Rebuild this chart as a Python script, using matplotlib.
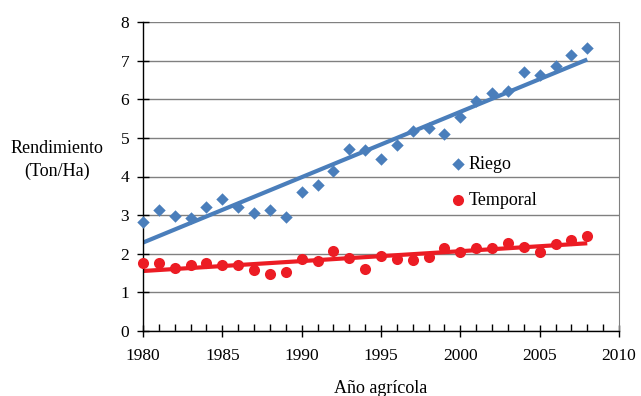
import matplotlib.pyplot as plt
import numpy as np
from matplotlib.ticker import MultipleLocator

plt.rcParams['font.family'] = ['Liberation Serif', 'DejaVu Serif']

# Rendimiento por año agrícola (Ton/Ha)
anios = list(range(1980, 2009))
riego = [2.81, 3.14, 2.98, 2.92, 3.21, 3.42, 3.22, 3.05, 3.14, 2.96,
         3.60, 3.78, 4.15, 4.71, 4.69, 4.45, 4.81, 5.18, 5.26, 5.11,
         5.53, 5.95, 6.16, 6.22, 6.70, 6.64, 6.85, 7.15, 7.33]
temporal = [1.75, 1.75, 1.63, 1.72, 1.76, 1.70, 1.70, 1.59, 1.48, 1.54,
            1.87, 1.82, 2.06, 1.88, 1.60, 1.93, 1.86, 1.85, 1.92, 2.14,
            2.05, 2.16, 2.14, 2.28, 2.17, 2.04, 2.25, 2.36, 2.46]

azul = '#4A7EBB'
rojo = '#EC1C24'

fig = plt.figure(figsize=(6.41, 3.96), dpi=100)
ax = fig.add_axes([143 / 641, 1 - 331 / 396, 476 / 641, 309 / 396])

x = np.array(anios)
# rectas de tendencia lineal
for serie, color in ((riego, azul), (temporal, rojo)):
    m, b = np.polyfit(x, serie, 1)
    ax.plot(x, m * x + b, color=color, lw=3, zorder=2, solid_capstyle='butt')

ax.scatter(x, riego, marker='D', s=40, color=azul, label='Riego', zorder=3,
           linewidths=0, clip_on=False)
ax.scatter(x, temporal, marker='o', s=64, color=rojo, label='Temporal', zorder=3,
           linewidths=0, clip_on=False)

ax.set_xlim(1980, 2010)
ax.set_ylim(0, 8)
ax.xaxis.set_major_locator(MultipleLocator(5))
ax.xaxis.set_minor_locator(MultipleLocator(1))
ax.yaxis.set_major_locator(MultipleLocator(1))
ax.grid(axis='y', color='#808080', lw=1)
ax.set_axisbelow(True)

ax.spines['top'].set_visible(False)
ax.spines['right'].set_color('#808080')
ax.spines['left'].set_linewidth(1)
ax.spines['bottom'].set_linewidth(1)
ax.tick_params(axis='x', which='major', direction='inout', length=9, width=1, labelsize=12.5, pad=8)
ax.tick_params(axis='x', which='minor', direction='in', length=5, width=1)
ax.tick_params(axis='y', direction='inout', length=8, width=1, labelsize=12.5, pad=6)

ax.set_xlabel('Año agrícola', fontsize=13, labelpad=11)
fig.text(57 / 641, 1 - 160 / 396, 'Rendimiento\n(Ton/Ha)', ha='center', va='center',
         fontsize=13, linespacing=1.45)

ax.legend(loc='upper left', bbox_to_anchor=(0.605, 0.62), frameon=False, fontsize=13,
          handletextpad=0.0, labelspacing=1.05, handlelength=1.2)

fig.savefig('out.png', dpi=100)
